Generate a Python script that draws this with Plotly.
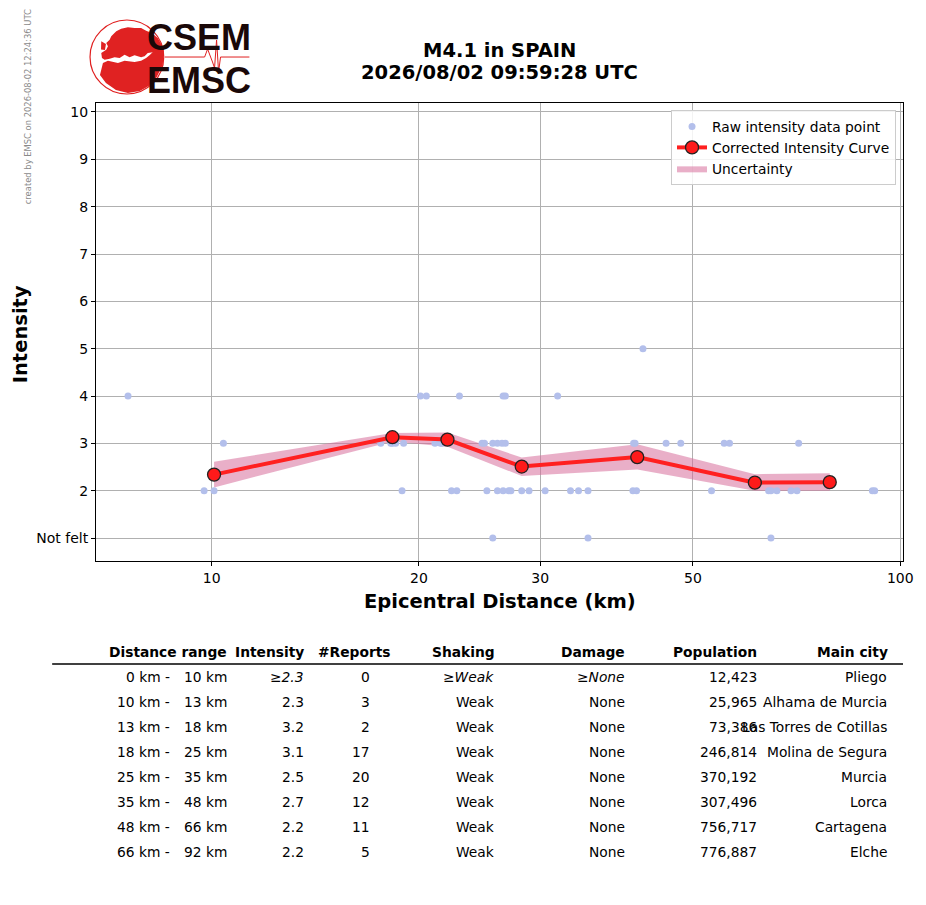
import plotly.graph_objects as go

# ---- raw intensity reports (distance km, intensity) ----
raw_dist = [7.56, 20.1, 20.5, 22.9, 26.5, 26.7, 31.8,
            42.3,
            10.4, 17.6, 18.2, 18.3, 18.5, 19.0, 21.1, 21.5, 21.6, 24.7, 24.9, 25.6,
            26.0, 26.4, 26.7, 41.0, 41.2, 45.7, 48.0, 55.5, 56.5, 71.2,
            9.75, 10.08, 18.9, 22.3, 22.7, 25.1, 26.0, 26.5, 27.0, 27.2, 28.2, 28.9,
            30.5, 33.2, 34.1, 35.2, 40.9, 41.4, 53.2, 64.4, 64.9, 66.2, 69.4, 70.8,
            91.1, 91.8,
            25.6, 35.2, 64.9]
raw_int = [4, 4, 4, 4, 4, 4, 4,
           5,
           3, 3, 3, 3, 3, 3, 3, 3, 3, 3, 3, 3,
           3, 3, 3, 3, 3, 3, 3, 3, 3, 3,
           2, 2, 2, 2, 2, 2, 2, 2, 2, 2, 2, 2,
           2, 2, 2, 2, 2, 2, 2, 2, 2, 2, 2, 2,
           2, 2,
           1, 1, 1]

# ---- corrected curve + uncertainty ----
curve_dist = [10.08, 18.3, 22.0, 28.2, 41.5, 61.5, 79.0]
curve_int = [2.34, 3.13, 3.08, 2.51, 2.71, 2.17, 2.18]
band_low = [2.07, 3.04, 2.93, 2.31, 2.45, 2.00, 2.00]
band_high = [2.61, 3.22, 3.23, 2.70, 2.98, 2.35, 2.37]

# ---- table ----
dist_lo = [0, 10, 13, 18, 25, 35, 48, 66]
dist_hi = [10, 13, 18, 25, 35, 48, 66, 92]
intensity_txt = ["≥2.3", "2.3", "3.2", "3.1", "2.5", "2.7", "2.2", "2.2"]
reports = [0, 3, 2, 17, 20, 12, 11, 5]
shaking = ["≥Weak", "Weak", "Weak", "Weak", "Weak", "Weak", "Weak", "Weak"]
damage = ["≥None", "None", "None", "None", "None", "None", "None", "None"]
population = [12423, 25965, 73386, 246814, 370192, 307496, 756717, 776887]
cities = ["Pliego", "Alhama de Murcia", "Las Torres de Cotillas", "Molina de Segura",
          "Murcia", "Lorca", "Cartagena", "Elche"]

y_ticks = [1, 2, 3, 4, 5, 6, 7, 8, 9, 10]
y_labels = ["Not felt", "2", "3", "4", "5", "6", "7", "8", "9", "10"]
x_ticks = [10, 20, 30, 50, 100]

W, H = 926, 905
L, R, T, B = 96, 906, 103, 561
FONT = "DejaVu Sans"


def px(x):
    return (x - L) / (R - L)


def py(y):
    return (B - y) / (B - T)


fig = go.Figure()

# uncertainty band as one closed polygon
fig.add_trace(go.Scatter(
    x=curve_dist + curve_dist[::-1], y=band_high + band_low[::-1],
    fill="toself", fillcolor="rgba(215,110,155,0.55)", line=dict(width=0),
    mode="lines", name="Uncertainty", legendrank=3, hoverinfo="skip"))

fig.add_trace(go.Scatter(
    x=raw_dist, y=raw_int, mode="markers", name="Raw intensity data point",
    marker=dict(color="#b3bfeb", size=7), legendrank=1))

fig.add_trace(go.Scatter(
    x=curve_dist, y=curve_int, mode="lines+markers", name="Corrected Intensity Curve",
    line=dict(color="#ff2020", width=4),
    marker=dict(color="#ff1a1a", size=13, line=dict(color="#222222", width=1.3)),
    legendrank=2))

ann = []


def text(x, y, s, size, family=FONT, color="black", angle=0, xanchor="center"):
    ann.append(dict(xref="paper", yref="paper", x=px(x), y=py(y), text=s, showarrow=False,
                    textangle=angle, xanchor=xanchor, yanchor="middle",
                    font=dict(family=family, size=size, color=color)))


# titles
text(501, 50, "<b>M4.1 in SPAIN</b>", 19.5)
text(501, 72, "<b>2026/08/02 09:59:28 UTC</b>", 19.5)
text(501, 601, "<b>Epicentral Distance (km)</b>", 19.5)
text(20, 334, "<b>Intensity</b>", 19.5, angle=-90)
text(28, 107, "created by EMSC on 2026-08-02 12:24:36 UTC", 8.4, color="#8a8a8a", angle=-90)


def path(points, close=True):
    s = "M " + " L ".join(f"{px(x):.4f},{py(y):.4f}" for x, y in points)
    return s + (" Z" if close else "")


shapes = []
# table header rule
shapes.append(dict(type="line", xref="paper", yref="paper", x0=px(52), x1=px(906),
                   y0=py(664), y1=py(664), line=dict(color="black", width=1.5)))

# logo: globe outline, land masses, seismogram
shapes.append(dict(type="circle", xref="paper", yref="paper", x0=px(90), x1=px(164),
                   y0=py(94), y1=py(20), line=dict(color="#e02020", width=1.2)))
europe = [(111.3, 36.3), (116.3, 31.3), (121.3, 28.7), (128, 27.3), (134.7, 28),
          (141.3, 28), (146.3, 30.7), (152, 33), (158, 38), (162, 45), (164, 52),
          (155, 52), (148, 53), (144.7, 56.3), (141.3, 57.3), (134.7, 55.3),
          (129.7, 57.3), (124.7, 54.7), (119.7, 58), (114.7, 57.3), (109.7, 58.7),
          (104.7, 59.7), (102, 58), (101.3, 53), (106.3, 49.7), (108, 46.3),
          (106.3, 43), (109.7, 39.7)]
africa = [(103, 63), (108, 60.7), (118, 63), (124.7, 60.7), (134.7, 62), (141.3, 60.7),
          (146.3, 58), (150, 55), (155, 50), (164, 52), (163, 65), (157, 77), (149, 86),
          (140, 91), (128, 93), (116, 90), (106, 83), (100, 75)]
isles = [(101.3, 41.3), (106, 44), (105, 50), (101, 49.5)]
for land in (europe, africa, isles):
    shapes.append(dict(type="path", xref="paper", yref="paper", path=path(land),
                       fillcolor="#e02222", line=dict(width=0)))
seis = [(165, 57), (205, 57), (208, 49), (211, 57), (213, 62), (215, 68), (217, 40),
        (219, 72), (221, 57), (250, 57)]
shapes.append(dict(type="path", xref="paper", yref="paper", path=path(seis, close=False),
                   line=dict(color="#e02020", width=1)))

# logo text
text(199, 37, "<b>CSEM</b>", 36, family="Liberation Sans", color="#1a0808")
text(199, 80, "<b>EMSC</b>", 36, family="Liberation Sans", color="#1a0808")


def cell(xr, yc, s, bold=False, italic=False):
    if bold:
        s = "<b>" + s + "</b>"
    if italic:
        s = "<i>" + s + "</i>"
    text(xr, yc, s, 13.8, xanchor="right")


# table header
hy = 652
cell(229, hy, "Distance range", bold=True)
cell(307, hy, "Intensity", bold=True)
cell(394, hy, "#Reports", bold=True)
cell(498, hy, "Shaking", bold=True)
cell(629, hy, "Damage", bold=True)
cell(761, hy, "Population", bold=True)
cell(893, hy, "Main city", bold=True)

for i in range(len(dist_lo)):
    yc = 677 + 25 * i
    it = i == 0
    cell(172, yc, f"{dist_lo[i]} km -")
    cell(229, yc, f"{dist_hi[i]} km")
    cell(307, yc, intensity_txt[i], italic=it)
    cell(373, yc, str(reports[i]))
    cell(497, yc, shaking[i], italic=it)
    cell(629, yc, damage[i], italic=it)
    cell(761, yc, f"{population[i]:,}")
    cell(892, yc, cities[i])

fig.update_layout(
    width=W, height=H, autosize=False,
    margin=dict(l=L, r=W - R, t=T, b=H - B),
    paper_bgcolor="white", plot_bgcolor="white",
    font=dict(family=FONT, size=14, color="black"),
    showlegend=True,
    legend=dict(x=px(899), y=py(110), xanchor="right", yanchor="top",
                bgcolor="rgba(255,255,255,0.85)", bordercolor="#cccccc", borderwidth=1,
                font=dict(family=FONT, size=13.8), tracegroupgap=0, itemwidth=30),
    annotations=ann, shapes=shapes,
)

fig.update_xaxes(type="log", range=[0.832, 2.004], tickvals=x_ticks,
                 ticktext=[str(v) for v in x_ticks], showgrid=True, gridcolor="#b0b0b0",
                 gridwidth=1, showline=True, linecolor="black", linewidth=1, mirror=True,
                 ticks="outside", ticklen=4, tickcolor="black", zeroline=False,
                 tickfont=dict(family=FONT, size=14))
fig.update_yaxes(range=[0.515, 10.19], tickvals=y_ticks, ticktext=y_labels,
                 showgrid=True, gridcolor="#b0b0b0", gridwidth=1, showline=True,
                 linecolor="black", linewidth=1, mirror=True, ticks="outside", ticklen=4,
                 tickcolor="black", zeroline=False, tickfont=dict(family=FONT, size=14))

# drop the default 8px page margin so the figure fills the window exactly
fig.write_html("out.html", config={"displayModeBar": False},
               post_script="document.body.style.margin='0';"
                           "document.body.style.overflow='hidden';")
